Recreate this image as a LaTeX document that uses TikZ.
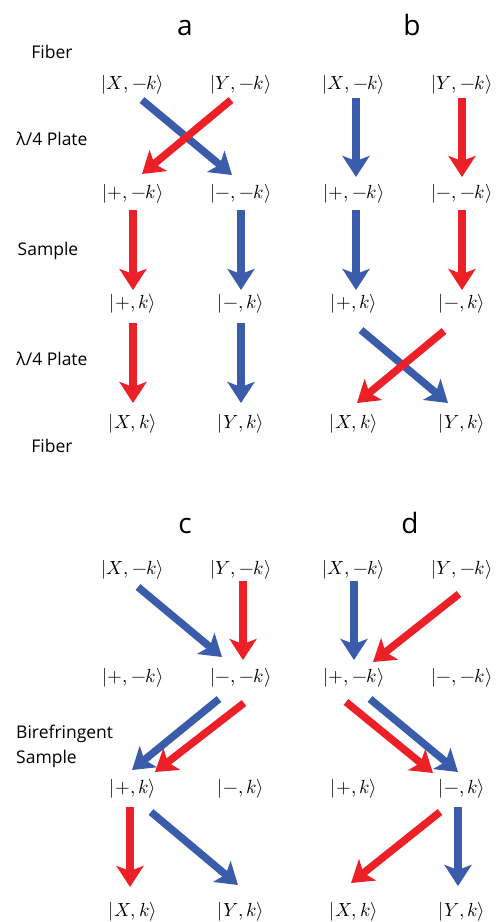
\documentclass[tikz,border=0pt]{standalone}
\usepackage{fontspec}
\usepackage{unicode-math}
\setmathfont{Latin Modern Math}
\newfontfamily\labelfont{Open Sans}
\usetikzlibrary{arrows.meta}
\definecolor{arrowred}{RGB}{237,32,39}
\definecolor{arrowblue}{RGB}{58,92,170}

\begin{document}
\begin{tikzpicture}[x=1pt,y=-1pt,
  ket/.style={inner sep=0pt,font=\fontsize{19}{22}\selectfont},
  side/.style={anchor=base,inner sep=0pt,font=\labelfont\fontsize{17.5}{25}\selectfont},
  panel/.style={anchor=base,inner sep=0pt,font=\labelfont\fontsize{28}{30}\selectfont},
  beam/.style={line width=7.5pt,-{Stealth[length=21pt,width=27pt,inset=5pt]}},
  rarr/.style={beam,arrowred},
  barr/.style={beam,arrowblue}]
\useasboundingbox (0,0) rectangle (498,922);

% panel letters
\node[panel] (ta) at (185,35) {a};
\node[panel] (tb) at (412,35) {b};
\node[panel] (tc) at (185,533) {c};
\node[panel] (td) at (410,533) {d};

% stage labels
\node[side] (fib1) at (52,58) {Fiber};
\node[side] (qwp1) at (52,145) {λ/4 Plate};
\node[side] (smp) at (48,255) {Sample};
\node[side] (qwp2) at (52,365) {λ/4 Plate};
\node[side] (fib2) at (52,452) {Fiber};
\node[side,anchor=west,align=left] (biref) at (16,746) {Birefringent\\Sample};

% states of each panel
\foreach \p/\xl/\ya/\yb/\yc/\yd in {a/133/85/194/304/424,b/354/85/194/304/424,c/133/570/678/789/912,d/354/570/678/789/912}{
  \pgfmathsetmacro\xr{\xl+108}
  \node[ket] (X\p1) at (\xl,\ya) {$|X,-k\rangle$};
  \node[ket] (Y\p1) at (\xr,\ya) {$|Y,-k\rangle$};
  \node[ket] (P\p2) at (\xl,\yb) {$|+,-k\rangle$};
  \node[ket] (M\p2) at (\xr,\yb) {$|-,-k\rangle$};
  \node[ket] (P\p3) at (\xl,\yc) {$|+,k\rangle$};
  \node[ket] (M\p3) at (\xr,\yc) {$|-,k\rangle$};
  \node[ket] (X\p4) at (\xl,\yd) {$|X,k\rangle$};
  \node[ket] (Y\p4) at (\xr,\yd) {$|Y,k\rangle$};
}

% a
\draw[barr] ([shift={(9,15)}]Xa1.center) -- ([shift={(-9,-19)}]Ma2.center);
\draw[rarr] ([shift={(-10,15)}]Ya1.center) -- ([shift={(9,-20)}]Pa2.center);
\draw[rarr] ([shift={(0,16)}]Pa2.center) -- ([shift={(0,-14)}]Pa3.center);
\draw[barr] ([shift={(0,16)}]Ma2.center) -- ([shift={(0,-14)}]Ma3.center);
\draw[rarr] ([shift={(0,19)}]Pa3.center) -- ([shift={(0,-21)}]Xa4.center);
\draw[barr] ([shift={(0,19)}]Ma3.center) -- ([shift={(0,-21)}]Ya4.center);

% b
\draw[barr] ([shift={(2,13)}]Xb1.center) -- ([shift={(2,-17)}]Pb2.center);
\draw[rarr] ([shift={(0,13)}]Yb1.center) -- ([shift={(0,-17)}]Mb2.center);
\draw[barr] ([shift={(2,16)}]Pb2.center) -- ([shift={(2,-14)}]Pb3.center);
\draw[rarr] ([shift={(0,16)}]Mb2.center) -- ([shift={(0,-14)}]Mb3.center);
\draw[barr] ([shift={(7,26)}]Pb3.center) -- ([shift={(-14,-21)}]Yb4.center);
\draw[rarr] ([shift={(-18,27)}]Mb3.center) -- ([shift={(3,-21)}]Xb4.center);

% c
\draw[barr] ([shift={(5,17)}]Xc1.center) -- ([shift={(-19,-21)}]Mc2.center);
\draw[rarr] ([shift={(2,11)}]Yc1.center) -- ([shift={(2,-18)}]Mc2.center);
\draw[barr] ([shift={(-22,21)}]Mc2.center) -- ([shift={(-1,-19)}]Pc3.center);
\draw[rarr] ([shift={(3,25)}]Mc2.center) -- ([shift={(22,-17)}]Pc3.center);
\draw[rarr] ([shift={(-3,18)}]Pc3.center) -- ([shift={(-3,-25)}]Xc4.center);
\draw[barr] ([shift={(18,23)}]Pc3.center) -- ([shift={(-3,-27)}]Yc4.center);

% d
\draw[barr] ([shift={(0,11)}]Xd1.center) -- ([shift={(0,-18)}]Pd2.center);
\draw[rarr] ([shift={(-3,24)}]Yd1.center) -- ([shift={(19,-16)}]Pd2.center);
\draw[rarr] ([shift={(-8,24)}]Pd2.center) -- ([shift={(-29,-16)}]Md3.center);
\draw[barr] ([shift={(16,21)}]Pd2.center) -- ([shift={(-4,-17)}]Md3.center);
\draw[rarr] ([shift={(-22,23)}]Md3.center) -- ([shift={(-3,-29)}]Xd4.center);
\draw[barr] ([shift={(-4,18)}]Md3.center) -- ([shift={(-4,-26)}]Yd4.center);
\end{tikzpicture}
\end{document}
